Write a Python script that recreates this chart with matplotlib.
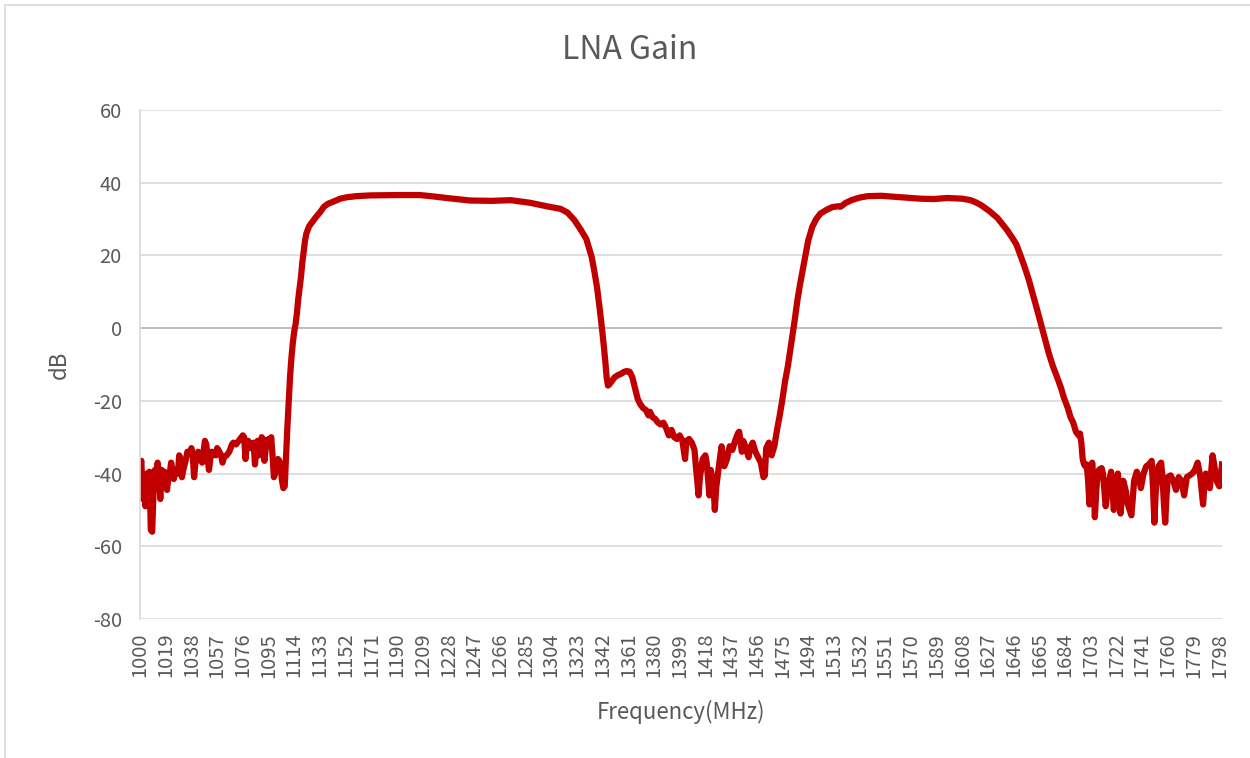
import matplotlib
matplotlib.use('Agg')
import matplotlib.pyplot as plt
from matplotlib.patches import Rectangle

# 低频段噪声 1000-1108 MHz
f_low = [1000, 1001, 1002, 1003, 1004, 1005, 1006, 1007, 1008, 1009, 1010, 1011, 1012, 1013,
         1014, 1015, 1016, 1017, 1018, 1019, 1020, 1021, 1022, 1023, 1024, 1025, 1026, 1028,
         1029, 1030, 1031, 1032, 1034, 1035, 1037, 1038, 1039, 1040, 1041, 1042, 1043, 1044,
         1046, 1047, 1048, 1049, 1050, 1051, 1052, 1053, 1054, 1056, 1057, 1058, 1060, 1061,
         1062, 1064, 1066, 1068, 1069, 1071, 1073, 1075, 1076, 1077, 1078, 1079, 1080, 1082,
         1084, 1085, 1086, 1087, 1088, 1089, 1090, 1091, 1092, 1093, 1094, 1095, 1096, 1097,
         1098, 1099, 1100, 1101, 1102, 1103, 1104, 1105, 1106, 1107]
g_low = [-38, -36.5, -47, -42, -49, -40, -44, -39.5, -55.5, -56, -45, -39, -43, -37,
         -40, -47, -39, -40, -39.5, -43, -44.5, -41, -40, -37, -39, -41.5, -39, -40,
         -35, -36, -41, -39, -36, -34, -34.5, -33, -35, -41, -37, -35, -34, -36,
         -37, -34, -31, -32, -36, -39, -36, -34, -34.5, -35, -33, -33.5, -35, -37,
         -35.5, -35, -34, -32, -31.5, -32, -31, -30, -29.5, -30, -36, -32, -31, -33,
         -31.5, -37.5, -33, -31, -35, -33, -30, -30.5, -36.5, -33, -31, -30.5, -32, -30,
         -35, -41, -40, -37, -36, -36.5, -38, -42, -44, -43.5]

# 第一通带 1108-1346 MHz
f_band1 = [1108, 1109, 1110, 1111, 1112, 1113, 1114, 1115, 1116, 1117, 1118, 1119, 1120, 1121,
           1122, 1123, 1125, 1127, 1130, 1133, 1136, 1139, 1143, 1148, 1153, 1160, 1170, 1190,
           1207, 1215, 1229, 1244, 1260, 1274, 1288, 1301, 1311, 1316, 1321, 1326, 1330, 1334,
           1336, 1338, 1340, 1342, 1344, 1345]
g_band1 = [-35, -27, -20, -13, -8, -4, -1, 1, 4, 8, 11, 14, 18, 21,
           24, 26, 28, 29, 30.5, 31.8, 33.4, 34.2, 34.8, 35.6, 36, 36.3, 36.5, 36.6,
           36.6, 36.3, 35.7, 35.1, 35.0, 35.2, 34.5, 33.5, 32.8, 31.8, 29.8, 27, 24.5, 19.5,
           15.5, 11, 5, -1.5, -9, -13.5]

# 中间阻带 1346-1470 MHz
f_mid = [1346, 1347, 1349, 1351, 1353, 1356, 1358, 1360, 1362, 1364, 1366, 1368, 1370, 1372,
         1374, 1376, 1377, 1379, 1381, 1383, 1385, 1387, 1389, 1391, 1393, 1395, 1397, 1399,
         1401, 1403, 1404, 1406, 1408, 1410, 1411, 1413, 1414, 1416, 1418, 1419, 1421, 1422,
         1424, 1425, 1426, 1428, 1430, 1432, 1434, 1436, 1438, 1440, 1442, 1443, 1445, 1446,
         1448, 1450, 1451, 1453, 1455, 1457, 1459, 1461, 1462, 1463, 1465, 1467, 1469]
g_mid = [-15.8, -15.5, -14.5, -13.5, -13, -12.5, -12, -11.8, -12, -13.5, -16.5, -19.5, -21, -22,
         -22.5, -24, -23, -24.5, -25, -26, -26.5, -26, -27.5, -29.5, -28, -30, -30.5, -29.5,
         -31, -36, -31, -30.5, -31.5, -33.5, -38, -46, -41, -36, -35, -37, -46, -39,
         -43, -50, -44, -38, -32.5, -38, -36, -32.5, -33.5, -31, -29, -28.5, -34, -31,
         -33, -35.5, -33, -31.5, -34, -35.5, -37, -41, -40.5, -33, -31.5, -35, -32.5]

# 第二通带 1471-1696 MHz
f_band2 = [1471, 1473, 1475, 1477, 1479, 1482, 1484, 1486, 1488, 1490, 1492, 1494, 1497, 1500,
           1503, 1508, 1512, 1516, 1518, 1522, 1526, 1532, 1538, 1548, 1562, 1577, 1587, 1597,
           1608, 1614, 1618, 1622, 1628, 1634, 1641, 1645, 1648, 1651, 1654, 1657, 1660, 1663,
           1666, 1669, 1672, 1675, 1678, 1681, 1683, 1686, 1688, 1690, 1692, 1694, 1695]
g_band2 = [-28, -24, -19.5, -14.5, -10.5, -3, 2, 7.5, 12, 16, 20, 24, 27.8, 30,
           31.5, 32.6, 33.3, 33.5, 33.4, 34.5, 35.2, 35.9, 36.3, 36.4, 36.0, 35.6, 35.5, 35.8,
           35.6, 35.2, 34.6, 33.8, 32.2, 30.3, 27, 24.8, 23, 20, 16.9, 13.5, 9.5, 5.5,
           1.3, -3, -7, -10.5, -13.4, -16.5, -19, -22, -24.5, -26, -28.5, -29.5, -29]

# 高频段噪声 1696-1800 MHz
f_high = [1696, 1697, 1698, 1699, 1700, 1701, 1702, 1703, 1704, 1705, 1706, 1707, 1708, 1709,
          1711, 1712, 1714, 1716, 1718, 1719, 1720, 1721, 1723, 1724, 1725, 1727, 1729, 1730,
          1733, 1734, 1735, 1737, 1739, 1740, 1742, 1744, 1746, 1748, 1749, 1750, 1751, 1753,
          1755, 1756, 1757, 1758, 1759, 1760, 1762, 1764, 1766, 1768, 1770, 1772, 1774, 1776,
          1778, 1780, 1782, 1784, 1786, 1787, 1788, 1790, 1791, 1793, 1794, 1796, 1798, 1799,
          1800]
g_high = [-31.5, -36, -37.5, -38, -37.5, -42, -48.5, -44, -37, -42, -52, -45, -40, -39,
          -38.5, -40, -49, -43, -39.5, -44, -50, -46, -40, -45, -51, -42, -45, -48,
          -51.5, -47, -42, -39.5, -42, -44, -40, -38, -37.5, -36.5, -44, -53.5, -45, -38,
          -37, -41, -48, -53.5, -46, -41, -40.5, -42, -44.5, -41, -42, -46, -41, -40.5,
          -40, -39, -37, -41, -48.5, -43, -40, -42, -44, -35, -37, -42, -43.5, -41,
          -37.5]

freq = f_low + f_band1 + f_mid + f_band2 + f_high
gain = g_low + g_band1 + g_mid + g_band2 + g_high

xticks = list(range(1000, 1800, 19))
yticks = list(range(-80, 61, 20))

plt.rcParams['font.family'] = ['Noto Sans CJK SC', 'DejaVu Sans']
text_color = '#595959'
grid_color = '#d9d9d9'

fig = plt.figure(figsize=(12.5, 7.58), dpi=100)
ax = fig.add_axes([0.112, 0.1834, 0.8656, 0.6715])

ax.plot(freq, gain, color='#c00000', linewidth=4.5, solid_joinstyle='round')

ax.set_xlim(1000, 1800)
ax.set_ylim(-80, 60)
ax.set_xticks(xticks)
ax.set_xticklabels([str(t) for t in xticks], rotation=90, fontsize=14.5, color=text_color)
ax.set_yticks(yticks)
ax.set_yticklabels([str(t) for t in yticks], fontsize=14.5, color=text_color)
ax.tick_params(axis='x', length=0, pad=10)
ax.tick_params(axis='y', length=0, pad=13)

ax.grid(axis='y', color=grid_color, linewidth=1.2)
ax.set_axisbelow(True)
ax.axhline(0, color='#bfbfbf', linewidth=1.4, zorder=1)
for s in ['top', 'right', 'bottom']:
    ax.spines[s].set_visible(False)
ax.spines['left'].set_color(grid_color)
ax.spines['left'].set_linewidth(1.2)

# 标题居中于整张图
fig.text(0.504, 0.934, 'LNA Gain', fontsize=23, color=text_color, ha='center', va='center')
ax.set_xlabel('Frequency(MHz)', fontsize=16, color=text_color, labelpad=16)
ax.set_ylabel('dB', fontsize=16, color=text_color, labelpad=16)

# 图表外框
fig.patches.append(Rectangle((0.004, -0.01), 1.0, 1.003, transform=fig.transFigure,
                             fill=False, edgecolor=grid_color, linewidth=1.2))

fig.savefig('out.png', dpi=100)
